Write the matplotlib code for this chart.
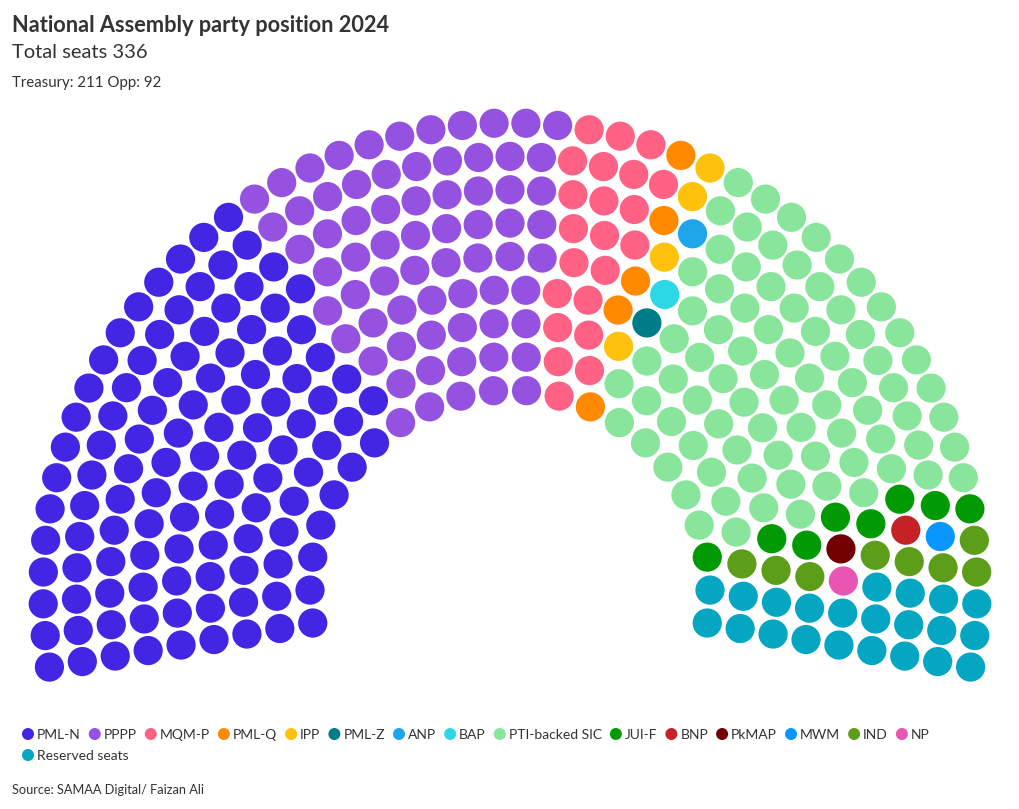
import numpy as np
import matplotlib
matplotlib.use("Agg")
import matplotlib.pyplot as plt
from matplotlib.patches import Circle
from fractions import Fraction

# seat data
parties = ["PML-N", "PPPP", "MQM-P", "PML-Q", "IPP", "PML-Z", "ANP", "BAP",
           "PTI-backed SIC", "JUI-F", "BNP", "PkMAP", "MWM", "IND", "NP",
           "Reserved seats"]
seats = [111, 69, 22, 5, 4, 1, 1, 1, 80, 8, 1, 1, 1, 8, 1, 22]
colors = ["#4326e3", "#9552e0", "#ff6285", "#ff8a00", "#ffc20c", "#007c89",
          "#1fa6ea", "#2cd8e5", "#89e59b", "#009a04", "#c52228", "#720000",
          "#0a96ff", "#5c9e1a", "#e855b3", "#04a6c2"]

title = "National Assembly party position 2024"
subtitle = "Total seats 336"
note = "Treasury: 211 Opp: 92"
source = "Source: SAMAA Digital/ Faizan Ali"

plt.rcParams["font.family"] = ["Lato", "DejaVu Sans"]
W, H = 1020, 809
fig = plt.figure(figsize=(W / 100, H / 100), dpi=100)
ax = fig.add_axes([0, 0, 1, 1])
ax.set_xlim(0, W)
ax.set_ylim(H, 0)
ax.axis("off")

# hemicycle layout: 9 rows, seats per row proportional to radius
total = sum(seats)
n_rows = 9
cx, cy = 510, 590
radii = np.linspace(200, 467, n_rows)
quota = total * radii / radii.sum()
per_row = np.floor(quota).astype(int)
left = total - per_row.sum()
for i in np.argsort(-(quota - per_row))[:left]:
    per_row[i] += 1

a0, span = 189.5, 199.0
pos = []
for i in range(n_rows):
    n = per_row[i]
    for k in range(n):
        f = Fraction(k, n - 1)
        pos.append((f, i, radii[i], np.radians(a0 - float(f) * span)))
pos.sort(key=lambda p: (p[0], p[1]))

seat_cols = []
for c, s in zip(colors, seats):
    seat_cols += [c] * s

for (f, i, r, t), c in zip(pos, seat_cols):
    ax.add_patch(Circle((cx + r * np.cos(t), cy - r * np.sin(t)), 14.6,
                        color=c, lw=0))

# header
ax.text(12, 32, title, fontsize=15.7, fontweight="bold", color="#333333")
ax.text(12, 58, subtitle, fontsize=14.5, color="#333333")
ax.text(12, 87, note, fontsize=10.8, color="#333333")

# legend
r_ = fig.canvas.get_renderer()
x, y = 28, 734
for name, c in zip(parties, colors):
    if name == "Reserved seats":
        x, y = 28, 755
    ax.add_patch(Circle((x, y), 6, color=c, lw=0))
    t = ax.text(x + 9, y + 1, name, fontsize=10, color="#333333", va="center")
    bb = t.get_window_extent(renderer=r_)
    x = x + 9 + bb.width + 14

ax.text(12, 794, source, fontsize=9.2, color="#333333")

fig.savefig("out.png", dpi=100)
